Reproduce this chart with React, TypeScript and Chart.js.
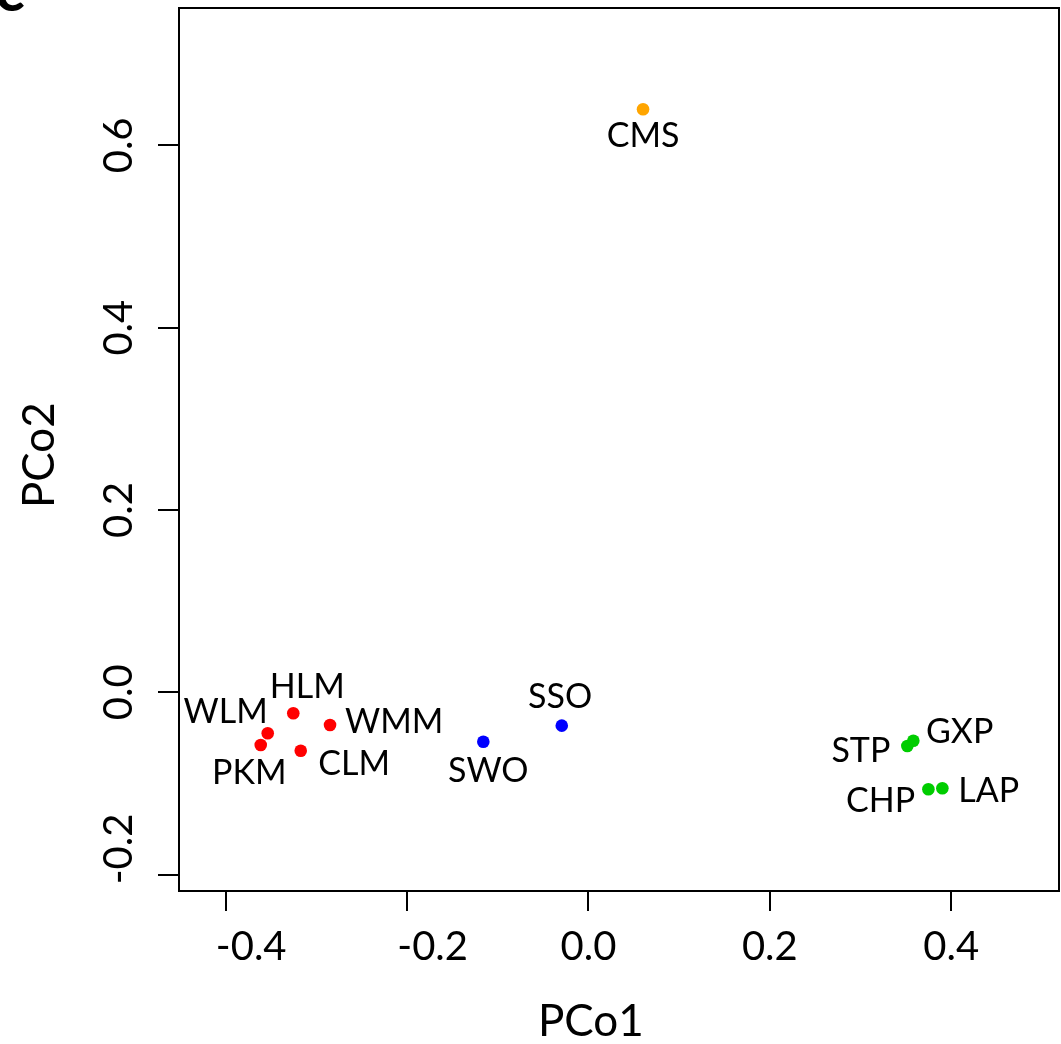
import React, { useEffect, useRef } from 'react';
import { Chart, registerables } from 'chart.js';

Chart.register(...registerables);

// ---- data ----
const NAMES = ['CMS', 'HLM', 'WMM', 'WLM', 'PKM', 'CLM', 'SWO', 'SSO', 'STP', 'GXP', 'CHP', 'LAP'];
const PCO1 = [0.0602, -0.3254, -0.2849, -0.3536, -0.3613, -0.3172, -0.1159, -0.0294, 0.3516, 0.3582, 0.3748, 0.3902];
const PCO2 = [0.6396, -0.023, -0.0359, -0.045, -0.0578, -0.0641, -0.0542, -0.0366, -0.0589, -0.0531, -0.1064, -0.1053];
const GROUPS = ['orange', 'red', 'red', 'red', 'red', 'red', 'blue', 'blue', 'green', 'green', 'green', 'green'];
const X_TICKS = [-0.4, -0.2, 0.0, 0.2, 0.4];
const Y_TICKS = [-0.2, 0.0, 0.2, 0.4, 0.6];
const X_TITLE = 'PCo1';
const Y_TITLE = 'PCo2';
const PANEL = 'c';

// ---- styles ----
const GROUP_COLORS: Record<string, string> = {
  orange: '#FFA500',
  red: '#FF0000',
  blue: '#0000FF',
  green: '#00CD00',
};
// label placement relative to point (pixels), baseline-anchored
const LABEL_ALIGN: CanvasTextAlign[] = ['center', 'center', 'left', 'right', 'center', 'left', 'center', 'center', 'right', 'left', 'right', 'left'];
const LABEL_DX = [0, 14, 15, 0, -11.5, 17.5, 5, -1.7, -17, 12.7, -13.3, 16];
const LABEL_DY = [37.4, -15, 7.7, -10, 39, 24.3, 40, -17.4, 15.7, 2, 22.4, 13.4];

const FONT = 'Lato';
const TICK_SIZE = 40;
const TITLE_SIZE = 44;
const LABEL_SIZE = 34;
const NBSP = '\u00A0';
const NEG_PAD = NBSP.repeat(5);

const fmt = (v: number) => (v < 0 ? NEG_PAD : '') + v.toFixed(1);

export default function App() {
  const ref = useRef<HTMLCanvasElement | null>(null);

  useEffect(() => {
    const canvas = ref.current;
    if (!canvas) return;

    // measure widest y label to centre rotated labels on the ticks
    const mctx = document.createElement('canvas').getContext('2d')!;
    mctx.font = `${TICK_SIZE}px ${FONT}`;
    const widest = Math.max(...Y_TICKS.map((v) => mctx.measureText(fmt(v)).width));
    const yTickPad = 39 - widest / 2;

    const boxPlugin = {
      id: 'box',
      afterDraw(chart: any) {
        const { ctx, chartArea: a } = chart;
        ctx.save();
        ctx.strokeStyle = '#000';
        ctx.lineWidth = 2;
        ctx.strokeRect(a.left, a.top, a.right - a.left, a.bottom - a.top);
        // panel letter
        ctx.fillStyle = '#000';
        ctx.font = `bold 62px ${FONT}`;
        ctx.textAlign = 'left';
        ctx.textBaseline = 'alphabetic';
        ctx.fillText(PANEL, -5, 11);
        ctx.restore();
      },
    };

    const labelPlugin = {
      id: 'pointLabels',
      afterDatasetsDraw(chart: any) {
        const { ctx } = chart;
        const meta = chart.getDatasetMeta(0);
        ctx.save();
        ctx.fillStyle = '#000';
        ctx.font = `${LABEL_SIZE}px ${FONT}`;
        ctx.textBaseline = 'alphabetic';
        meta.data.forEach((el: any, i: number) => {
          ctx.textAlign = LABEL_ALIGN[i];
          ctx.fillText(NAMES[i], el.x + LABEL_DX[i], el.y + LABEL_DY[i]);
        });
        ctx.restore();
      },
    };

    const chart = new Chart(canvas, {
      type: 'scatter',
      data: {
        datasets: [
          {
            data: PCO1.map((x, i) => ({ x, y: PCO2[i] })),
            pointBackgroundColor: GROUPS.map((g) => GROUP_COLORS[g]),
            pointBorderColor: GROUPS.map((g) => GROUP_COLORS[g]),
            pointBorderWidth: 0,
            pointRadius: 6.3,
          },
        ],
      },
      options: {
        animation: false,
        responsive: false,
        maintainAspectRatio: false,
        layout: { autoPadding: false, padding: { left: 0, top: 8, right: 2, bottom: 0 } },
        plugins: { legend: { display: false }, tooltip: { enabled: false } },
        scales: {
          x: {
            type: 'linear',
            min: -0.4514,
            max: 0.5188,
            afterBuildTicks: (s: any) => {
              s.ticks = X_TICKS.map((value) => ({ value }));
            },
            afterFit: (s: any) => {
              s.height = 153;
            },
            grid: {
              drawOnChartArea: false,
              drawTicks: true,
              tickLength: 20,
              tickWidth: 2,
              tickColor: '#000',
              color: '#000',
              lineWidth: 2,
            },
            border: { display: true, color: '#000', width: 2 },
            ticks: {
              autoSkip: false,
              maxRotation: 0,
              minRotation: 0,
              color: '#000',
              padding: 16.5,
              font: { family: FONT, size: TICK_SIZE, lineHeight: 1 },
              callback: (v: any) => fmt(Number(v)),
            },
            title: {
              display: true,
              text: X_TITLE + NBSP.repeat(5),
              color: '#000',
              font: { family: FONT, size: TITLE_SIZE, lineHeight: 1 },
              padding: { top: 0, bottom: 0 },
            },
          },
          y: {
            type: 'linear',
            min: -0.218,
            max: 0.7507,
            afterBuildTicks: (s: any) => {
              s.ticks = Y_TICKS.map((value) => ({ value }));
            },
            afterFit: (s: any) => {
              s.width = 179;
            },
            grid: {
              drawOnChartArea: false,
              drawTicks: true,
              tickLength: 21,
              tickWidth: 2,
              tickColor: '#000',
              color: '#000',
              lineWidth: 2,
            },
            border: { display: true, color: '#000', width: 2 },
            ticks: {
              autoSkip: false,
              minRotation: 90,
              maxRotation: 90,
              crossAlign: 'center',
              color: '#000',
              padding: yTickPad,
              font: { family: FONT, size: TICK_SIZE, lineHeight: 1 },
              callback: (v: any) => fmt(Number(v)),
            },
            title: {
              display: true,
              text: Y_TITLE + NBSP,
              color: '#000',
              font: { family: FONT, size: TITLE_SIZE, lineHeight: 1 },
              padding: { top: 18, bottom: 0 },
            },
          },
        },
      },
      plugins: [boxPlugin, labelPlugin],
    });

    return () => chart.destroy();
  }, []);

  return (
    <div style={{ position: 'fixed', left: 0, top: 0, width: 1061, height: 1044, background: '#fff' }}>
      <canvas ref={ref} width={1061} height={1044} style={{ width: 1061, height: 1044, display: 'block' }} />
    </div>
  );
}
